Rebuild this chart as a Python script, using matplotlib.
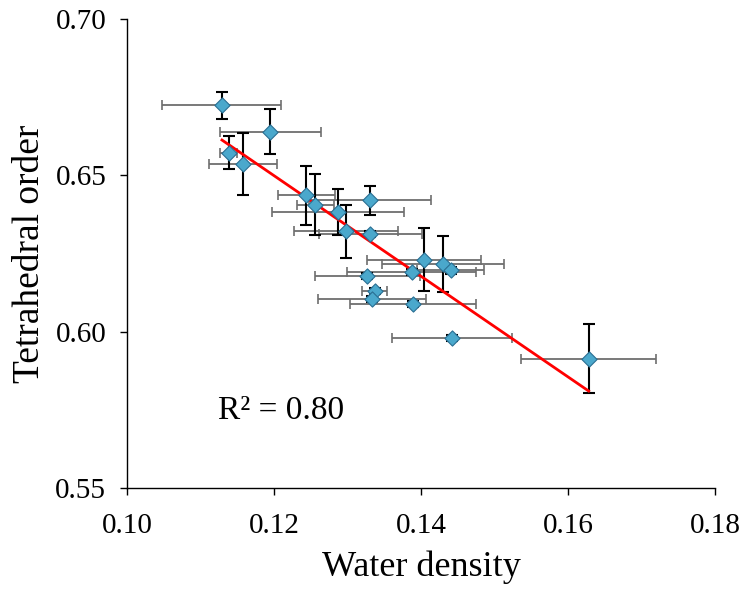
import numpy as np
import matplotlib
matplotlib.use("Agg")
import matplotlib.pyplot as plt

# Data
water_density = [0.1129, 0.1195, 0.1138, 0.1158, 0.1244, 0.1256, 0.1287, 0.1331,
                 0.1298, 0.1331, 0.1404, 0.1430, 0.1440, 0.1387, 0.1327, 0.1337,
                 0.1333, 0.1389, 0.1442, 0.1628]
tetra_order = [0.6724, 0.6639, 0.6573, 0.6537, 0.6436, 0.6407, 0.6382, 0.6420,
               0.6321, 0.6313, 0.6231, 0.6217, 0.6196, 0.6190, 0.6179, 0.6131,
               0.6105, 0.6089, 0.5980, 0.5914]
x_err = [0.0081, 0.0069, 0.0011, 0.0046, 0.0039, 0.0025, 0.0090, 0.0083,
         0.0071, 0.0070, 0.0077, 0.0083, 0.0045, 0.0088, 0.0071, 0.0017,
         0.0073, 0.0086, 0.0082, 0.0092]
y_err = [0.0043, 0.0072, 0.0052, 0.0100, 0.0093, 0.0098, 0.0073, 0.0046,
         0.0084, 0.0010, 0.0100, 0.0089, 0.0010, 0.0010, 0.0010, 0.0010,
         0.0010, 0.0010, 0.0010, 0.0110]
r2_label = "R\u00b2 = 0.80"

x = np.array(water_density)
y = np.array(tetra_order)

plt.rcParams['font.family'] = ['Liberation Serif', 'DejaVu Serif']

fig = plt.figure(figsize=(7.48, 5.96), dpi=100)
ax = fig.add_axes([0.170, 0.181, 0.786, 0.787])

# horizontal error bars (grey)
ax.errorbar(x, y, xerr=x_err, fmt='none', ecolor='#6e6e6e', elinewidth=1.3,
            capsize=3.5, capthick=1.2, zorder=2)
# vertical error bars (black)
ax.errorbar(x, y, yerr=y_err, fmt='none', ecolor='black', elinewidth=1.5,
            capsize=4.5, capthick=1.5, zorder=3)

# linear trendline
coef = np.polyfit(x, y, 1)
xl = np.array([x.min(), x.max()])
ax.plot(xl, np.polyval(coef, xl), color='#ff0000', lw=2, zorder=4)

ax.scatter(x, y, marker='D', s=60, color='#4aa8cc', edgecolors='#2a6f93',
           linewidths=0.8, zorder=5)

ax.text(0.1124, 0.5747, r2_label, fontsize=24, va='center', ha='left')

ax.set_xlim(0.10, 0.18)
ax.set_ylim(0.55, 0.70)
ax.set_xticks([0.10, 0.12, 0.14, 0.16, 0.18])
ax.set_yticks([0.55, 0.60, 0.65, 0.70])
ax.xaxis.set_major_formatter(matplotlib.ticker.FormatStrFormatter('%.2f'))
ax.yaxis.set_major_formatter(matplotlib.ticker.FormatStrFormatter('%.2f'))
ax.tick_params(direction='out', length=5, width=1, labelsize=21)
ax.tick_params(axis='x', pad=13)
ax.tick_params(axis='y', pad=10)
ax.spines['top'].set_visible(False)
ax.spines['right'].set_visible(False)
ax.spines['left'].set_linewidth(1)
ax.spines['bottom'].set_linewidth(1)

ax.set_xlabel('Water density', fontsize=26, labelpad=8)
ax.set_ylabel('Tetrahedral order', fontsize=27, labelpad=6)

fig.savefig('out.png', dpi=100)
